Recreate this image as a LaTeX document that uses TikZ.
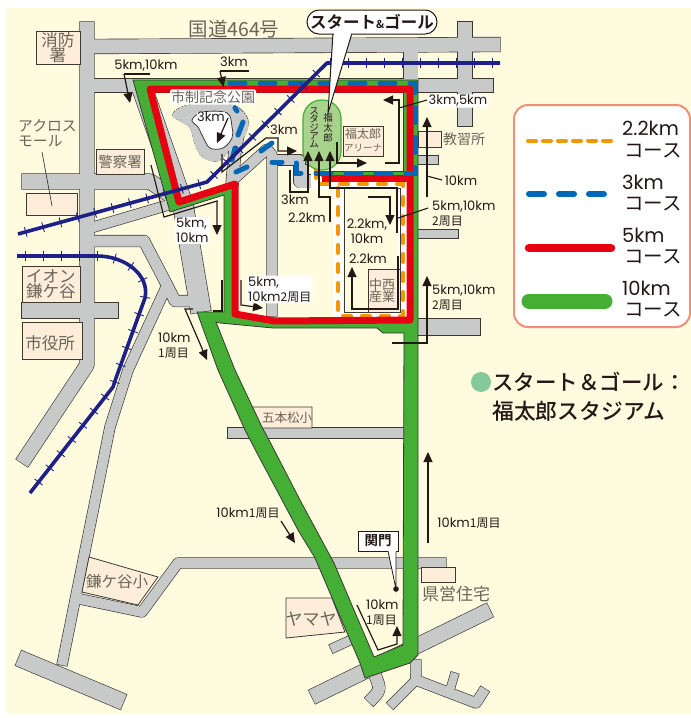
\documentclass[tikz,border=0pt]{standalone}
\usepackage{fontspec}
\setmainfont{Noto Sans CJK JP}
\newfontfamily\jpf{Noto Sans CJK JP}
\newfontfamily\jpm{Noto Sans CJK JP Medium}
\newfontfamily\jpb{Noto Sans CJK JP Bold}
\newfontfamily\lat{Poppins}
\newcommand\jp[1]{{\jpf\fontsize{12}{15}\selectfont #1}}
\usetikzlibrary{arrows.meta,decorations.markings}
\definecolor{cream}{HTML}{FFFBDF}
\definecolor{roadgray}{HTML}{C8CACA}
\definecolor{roadline}{HTML}{3C3836}
\definecolor{grn}{HTML}{45AE35}
\definecolor{rd5}{HTML}{E60012}
\definecolor{bl3}{HTML}{0068B7}
\definecolor{or2}{HTML}{F39800}
\definecolor{navy}{HTML}{1D2088}
\definecolor{peach}{HTML}{FDEDD9}
\definecolor{ink}{HTML}{231815}
\definecolor{mapgray}{HTML}{6A655A}
\definecolor{salmon}{HTML}{F28E78}
\definecolor{stadfill}{HTML}{A8D38D}
\definecolor{dotgreen}{HTML}{85C89A}
\newcommand\rd[2]{\draw[rdc,line width=#1pt+\rdx] #2;}
\newcommand\Roads{%
 \rd{14}{(87,22)--(87,365)--(22,463)}
 \rd{14}{(87,46.5)--(500,44.5)}
 \rd{14}{(410.5,40)--(410.5,150)}
 \rd{14}{(465,22)--(465,126)}
 \rd{13}{(87,85.5)--(493,85.5)}
 \rd{15}{(22,181.5)--(150,181.5)--(172,196)}
 \rd{10}{(87,229)--(175,203)}
 \rd{11}{(87,241)--(144,241)--(166,283)--(175,301)--(205,301)}
 \rd{10}{(168,283)--(128,370)--(110,427)--(62,665)}
 \rd{16}{(18.5,658)--(123.5,702)}
 \rd{10}{(75,598)--(142,612)--(178,563)--(446,563)}
 \rd{20}{(141,85)--(183,205)--(201,312)}
 \rd{15}{(22,310.5)--(118,310.5)}
 \rd{10}{(235,178)--(267,149)--(272,155)--(272,316)}
 \rd{10}{(272,160)--(300,160)--(300,176)}
 \rd{13}{(300,165)--(300,181)--(316,181)}
 \rd{12}{(240,125)--(235,150)--(232,185)}
 \rd{8}{(410,160)--(438,160)}
 \rd{8}{(410,234)--(458,234)}
 \rd{16}{(410,327)--(480,327)}
 \rd{10}{(228,433)--(404,433)}
 \rd{15}{(490,610)--(312,697)}
 \rd{9}{(331,649)--(355,638)}
 \rd{12}{(375,675) .. controls (381,690) .. (369,702)}
 \rd{10}{(416,660)--(416,680)--(476,703)--(485,689)}
 \rd{9}{(416,668)--(416,680)--(390,706)}
 \rd{8}{(450,690)--(455,673)}
 \draw[rdc,fill=roadgray,line width=\rdx+0pt] plot[smooth cycle,tension=.6] coordinates {(173,115)(190,105)(230,105)(243,112)(248,123)(243,137)(233,143)(220,160)(203,157)(195,143)(190,127)};
}
\tikzset{
 rdc/.style={},
 box/.style={draw=roadline,fill=peach,line width=.8pt},
 maptxt/.style={text=mapgray,inner sep=0pt,font=\jpf\fontsize{#1}{#1}\selectfont,align=center},
 lb/.style={text=ink,inner sep=0pt,align=left,font=\lat\fontsize{13}{15}\selectfont},
 halo/.style={fill=white,inner sep=1pt,rounded corners=2pt},
 ar/.style={draw=ink,line width=1.2pt,-{Triangle[length=10pt,width=9pt]}},
 ld/.style={draw=ink,line width=1.1pt},
 rail/.style={draw=navy,line width=3.6pt,postaction={decorate,decoration={markings,mark=between positions 8pt and -4pt step 18pt with {\draw[navy,line width=.9pt] (0,-5pt)--(0,5pt);}}}},
 bluedash/.style={draw=bl3,line width=5pt,line cap=round,dash pattern=on 15pt off 15pt},
 bluepiece/.style={draw=bl3,line width=5pt,line cap=round},
 orangedash/.style={draw=or2,line width=4pt,line cap=round,dash pattern=on 8pt off 11pt},
 legtxt/.style={text=ink,inner sep=0pt,anchor=west,font=\jpf\fontsize{19.5}{19.5}\selectfont},
}
\begin{document}
\begin{tikzpicture}[x=1pt,y=-1pt,line join=miter]
\useasboundingbox (0,0) rectangle (691,718);
\fill[white] (0,0) rectangle (691,718);
\fill[cream] (6,8) rectangle (691,714);
% roads: border pass then gray pass
\begin{scope}[line join=round]
 \def\rdx{1.3pt}
 \tikzset{rdc/.style={draw=roadline,shorten >=-.6pt,shorten <=-.6pt}}
 \Roads
 \def\rdx{0pt}
 \tikzset{rdc/.style={draw=roadgray}}
 \Roads
\end{scope}
\fill[white,draw=roadline,line width=.8pt] plot[smooth cycle,tension=.6] coordinates {(192,120)(203,112)(227,113)(232,127)(232,138)(223,148)(210,148)(203,137)(198,127)};
% peach boxes
\node[box,minimum width=44pt,minimum height=33pt,inner sep=0pt] (shobo) at (58,47.5) {};
\node[maptxt=16.5] at (58,47.5) {消防\\[-1pt]署};
\node[box,minimum width=48pt,minimum height=25pt,inner sep=0pt] (keisatsu) at (120,161.5) {};
\node[maptxt=14.5] at (120,161.5) {警察署};
\node[box,minimum width=51pt,minimum height=22pt,inner sep=0pt] (across) at (51.5,204) {};
\node[maptxt=14.8,align=left,anchor=west] (acrosst) at (18,133) {アクロス\\モール};
\coordinate (acrossp) at (52,206);
\draw[draw=roadline,line width=.7pt] (42,152)--(acrossp);
\node[box,minimum width=58pt,minimum height=36pt,inner sep=0pt] (aeon) at (51,284) {};
\node[maptxt=16.5] at (51,284) {イオン\\[-1pt]鎌ケ谷};
\node[box,minimum width=60pt,minimum height=37pt,inner sep=0pt] (shiyaku) at (52,340.5) {};
\node[maptxt=16.5] at (50,343) {市役所};
\node[box,minimum width=23pt,minimum height=16pt,inner sep=0pt] (kyoshu) at (429.5,139) {};
\node[maptxt=14,anchor=west] at (443,139) {教習所};
\draw[box] (252,407)--(312,407)--(312,428)--(262,428)--cycle;
\node[maptxt=12.5] at (287,417.5) {五本松小};
\draw[box] (89,557)--(158,577)--(138,605)--(82,592)--cycle;
\node[maptxt=15.5] at (117,582) {鎌ケ谷小};
\draw[box] (286,598)--(332,598)--(345,632)--(286,638)--cycle;
\node[maptxt=17] at (311,619) {ヤマヤ};
\node[box,minimum width=34pt,minimum height=15pt,inner sep=0pt] (kenei) at (438,574.5) {};
\node[maptxt=17] at (456,594) {県営住宅};
\node[maptxt=19.5] at (234,29) {国道464号};
% 10 km course
\draw[draw=roadline,line width=.8pt,fill=grn,even odd rule]
 (133,80)--(418,80)--(418,655)--(410,663)--(365,678)--(360,663)--(315,558)--(298,530)--(258,455)--(245,430)--(218,370)--(197,312)--(224,312)--(224,195)--(170,212)--cycle
 (150,89)--(410,89)--(410,320)--(275,321)--(235,314)--(235,184)--(179,202)--cycle
 (216,322)--(235,370)--(262,427)--(269,440)--(300,500)--(334,563)--(374,657)--(403,645)--(404,333)--(383,333)--(377,328)--(273,328)--(220,323)--cycle;
\draw[grn,line width=5pt] (405,90)--(405,174)--(315,174);
\draw[roadline,line width=.8pt] (403,88)--(403,171.5)--(318,171.5);
% 2.2 km course
\draw[white,line width=10pt] (316,172)--(316,184)--(403,184)--(403,316)--(338,316)--(338,184);
\draw[roadline,line width=.8pt] (344,188) rectangle (400,312);
\draw[orangedash] (316,170)--(316,184)--(403,184)--(403,316)--(338,316)--(338,184);
% 5 km course
\draw[rd5,line width=7pt,line join=round] (150,89)--(410,89)--(410,320)--(275,321)--(235,314)--(235,184)--(179,202)--cycle;
\draw[rd5,line width=7pt] (410,178)--(322,178);
% 3 km course
\draw[bluedash] (230,83)--(415.5,83)--(415.5,173)--(296,173)--(296,162)--(272,162);
\draw[bluepiece] (272,143)--(261,151);
\draw[bluepiece] (247,167)--(236,172);
\draw[bluepiece] (235,148)--(232,160);
\draw[bluepiece] (243,122)--(238,135);
\draw[bluepiece] (235,108)--(237,111);
% railways
\draw[rail,line join=round] (18,234)--(207,182)--(327,63)--(500,63);
\draw[rail,line join=round] (17,256)--(97,256) .. controls (125,256) and (150,275) .. (145,298)--(116,378)--(113,387)--(30,493);
% stadium
\node[draw=grn,fill=stadfill,line width=1.2pt,rounded corners=18.5pt,minimum width=38pt,minimum height=70pt,inner sep=0pt] (stadium) at (322,135) {};
\node[text=ink,inner sep=0pt,align=center,font=\jpf\fontsize{9.5}{8.3}\selectfont] at (314,128) {ス\\タ\\ジ\\ア\\ム};
\node[text=ink,inner sep=0pt,align=center,font=\jpf\fontsize{9.5}{8.6}\selectfont] at (328,128) {福\\太\\郎};
\node[box,minimum width=40pt,minimum height=30pt,inner sep=0pt] (arena) at (363,141) {};
\node[maptxt=12] at (363,134) {福太郎};
\node[maptxt=9.5] at (363,148) {アリーナ};
\node[box,minimum width=32pt,minimum height=43pt,inner sep=0pt] (nakanishi) at (384,290.5) {};
\node[maptxt=13] at (382,290.5) {中西\\[-1pt]産業};
% arrows
\draw[ld] (150,74)--(124,74);
\draw[ar] (124,74)--(130,103);
\draw[ld] (249,71)--(220,71);
\draw[ar] (220,71)--(223.5,87);
\draw[ar] (228,118)--(217,143);
\draw[ar] (222,154)--(222,172)--(266,138)--(278,138)--(278,151)--(297,151);
\draw[ar] (290,170)--(290,192)--(308,192)--(308,151);
\draw[ar] (330,222)--(330,197)--(319,197)--(319,151);
\draw[ar] (397,233)--(397,188)--(330,188)--(330,151);
\draw[ar] (337,142)--(337,163)--(367,163);
\draw[ar] (385,163)--(399,163)--(399,100)--(383,100);
\draw[ld] (427,100)--(399,108);
\draw[ar] (427,197)--(427,117);
\draw[ld] (442,180)--(427,176);
\draw[ar] (368,197)--(390,197)--(390,225);
\draw[ld] (428,208)--(398,218);
\draw[ar] (398,256)--(398,309)--(352,309)--(352,267);
\draw[ar] (392,343)--(427,343)--(427,276);
\draw[ar] (241,280)--(241,305)--(263,308);
\draw[ar] (151,165)--(164,217)--(217,201)--(217,235);
\draw[ar] (193,309)--(185,309)--(207,360);
\draw[ld] (222,280)--(222,311)--(213,311);
\draw[ar] (281,521)--(295,543);
\draw[ar] (428,543)--(428,452);
\draw[ar] (357,605)--(378,650)--(397,644)--(397,626);
% labels
\node[lb] (l1) at (146,66) {5km,10km};
\node[lb] (l2) at (234,62) {3km};
\node[lb,fill=white,inner sep=0.5pt] (l3) at (211,117) {3km};
\node[lb] (l4) at (284,130) {3km};
\node[lb] (l5) at (295,200) {3km};
\node[lb] (l6) at (307,218) {2.2km};
\node[lb,halo] (l7) at (458,101) {3km,5km};
\node[lb] (l8) at (461,181) {10km};
\node[lb,anchor=west] (l9) at (432,214) {5km,10km\\\jp{2周目}};
\node[lb,anchor=west] (l10) at (432,298) {5km,10km\\\jp{2周目}};
\node[lb,align=center] (l11) at (367,231.5) {2.2km,\\10km};
\node[lb] (l12) at (368,259) {2.2km};
\node[lb,anchor=west,halo] (l13) at (247,289.5) {5km,\\10km\jp{2周目}};
\node[lb,anchor=west,halo] (l14) at (175,230.5) {5km,\\10km};
\node[lb,anchor=west] (l15) at (158,346) {10km\\\jp{1周目}};
\node[lb] (l16) at (248,513) {10km\jp{1周目}};
\node[lb] (l17) at (469,523) {10km\jp{1周目}};
\node[lb,anchor=west] (l18) at (366,613) {10km\\\jp{1周目}};
\node[maptxt=14,fill=white,inner sep=1pt,rounded corners=2pt] (park) at (213,97) {市制記念公園};
% callouts
\fill[ink] (396,589) circle (2.8pt);
\draw[draw=ink,fill=white,line width=.8pt] (358,531) rectangle (398,551);
\draw[draw=ink,fill=white,line width=.8pt] (388,551)--(396,589)--(396,551);
\fill[white] (388.5,550) rectangle (395.5,552);
\node[text=ink,inner sep=0pt,font=\jpb\fontsize{13.5}{13.5}\selectfont] (kanmon) at (378,541) {関門};
\draw[draw=ink,fill=white,line width=1pt] (333,33)--(328,113)--(352,33);
\draw[draw=ink,fill=white,line width=1pt,rounded corners=12pt] (307,10) rectangle (437,34);
\fill[white] (334,31) rectangle (351,35);
\node[text=ink,inner sep=0pt,font=\jpb\fontsize{16.5}{16.5}\selectfont] (sg) at (372,22) {スタート{\fontsize{11}{11}\selectfont\&}ゴール};
% legend
\draw[draw=salmon,fill=white,line width=2pt,rounded corners=14pt] (514,105) rectangle (690,327);
\draw[or2,line width=4pt,line cap=round,dash pattern=on 8pt off 7pt] (528,141)--(612,141);
\draw[bl3,line width=6pt,line cap=round,dash pattern=on 15pt off 15pt] (529,194)--(606,194);
\draw[rd5,line width=8.5pt,line cap=round] (529,248)--(611,248);
\draw[grn,line width=15pt,line cap=round] (529,301)--(605,301);
\node[legtxt] (lg1) at (622,128) {\lat 2.2km};
\node[legtxt] (lg1b) at (624,151) {コース};
\node[legtxt] (lg2) at (622,182) {\lat 3km};
\node[legtxt] (lg2b) at (624,204) {コース};
\node[legtxt] (lg3) at (622,235) {\lat 5km};
\node[legtxt] (lg3b) at (624,257) {コース};
\node[legtxt] (lg4) at (622,288) {\lat 10km};
\node[legtxt] (lg4b) at (624,310) {コース};
% caption
\fill[dotgreen] (481,382) circle (10pt);
\node[text=ink,inner sep=0pt,anchor=west,font=\jpm\fontsize{21.5}{21.5}\selectfont] (cap1) at (492,382) {スタート＆ゴール：};
\node[text=ink,inner sep=0pt,anchor=west,font=\jpm\fontsize{21.8}{21.8}\selectfont] (cap2) at (492,411) {福太郎スタジアム};
\end{tikzpicture}
\end{document}
